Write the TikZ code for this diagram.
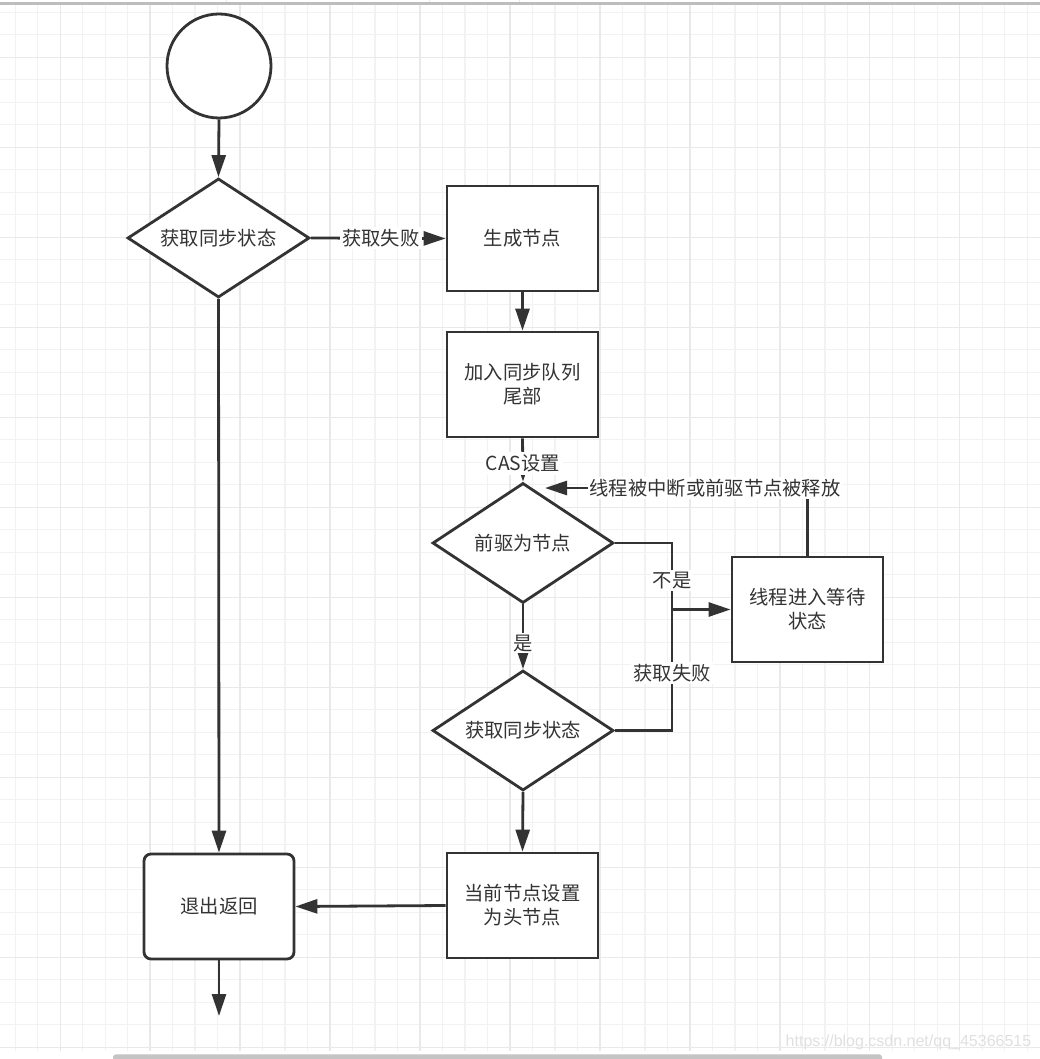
\documentclass[tikz,border=0pt]{standalone}
\usepackage{fontspec}
\setmainfont{Noto Sans CJK SC}
\newfontfamily\wmfont{Liberation Sans}
\usetikzlibrary{arrows.meta,shapes.geometric}
\definecolor{ink}{HTML}{333333}
\definecolor{gridminor}{HTML}{F2F2F2}
\definecolor{gridmajor}{HTML}{E9E9E9}
\definecolor{barcol}{HTML}{BDBDBD}
\definecolor{wmcol}{HTML}{E0E0E0}
\begin{document}
\begin{tikzpicture}[x=1pt,y=-1pt,
  cjk/.style={text=ink,font=\fontsize{19.3}{24}\selectfont},
  box/.style={cjk,draw=ink,line width=2.8pt,fill=white,minimum width=151pt,minimum height=105pt,inner sep=0pt,align=center},
  rbox/.style={box,rounded corners=7pt,minimum width=150pt},
  dec/.style={cjk,diamond,draw=ink,line width=2.8pt,fill=white,minimum width=182pt,minimum height=119pt,aspect=1.5,inner sep=0pt},
  startc/.style={circle,draw=ink,line width=2.8pt,fill=white,minimum size=104pt,inner sep=0pt},
  conn/.style={draw=ink,line width=2.8pt},
  arr/.style={conn,-{Triangle[length=22pt,width=14pt]}},
  lbl/.style={cjk,fill=white,inner sep=2pt}
]
\useasboundingbox (0,0) rectangle (1040,1059);
\fill[white] (0,0) rectangle (1040,1059);
% grid
\foreach \k in {0,...,45} {\draw[gridminor,line width=1.3pt] ({15.2+22.49*\k},5) -- ({15.2+22.49*\k},1051);}
\foreach \k in {0,...,46} {\draw[gridminor,line width=1.3pt] (0,{12.3+22.5*\k}) -- (1040,{12.3+22.5*\k});}
\foreach \k in {2,6,...,42} {\draw[gridmajor,line width=1.3pt] ({15.2+22.49*\k},5) -- ({15.2+22.49*\k},1051);}
\foreach \k in {2,6,...,46} {\draw[gridmajor,line width=1.3pt] (0,{12.3+22.5*\k}) -- (1040,{12.3+22.5*\k});}
% top bar and scrollbar
\fill[barcol] (0,2.5) rectangle (1040,4.8);
\foreach \x in {226.7,429.3,519.3} {\draw[gridmajor,line width=1pt] (\x,0) -- (\x,2.5);}
\fill[barcol!90,rounded corners=3pt] (113,1054.3) rectangle (882,1064);
% watermark
\node[anchor=base,text=wmcol,font=\wmfont\fontsize{16}{16}\selectfont,inner sep=0pt] (wm) at (908.5,1046.5) {https://blog.csdn.net/qq\_45366515};

% nodes
\node[startc] (start) at (219,66) {};
\node[dec] (d1) at (218.5,238) {获取同步状态};
\node[box] (b1) at (522.5,238.5) {生成节点};
\node[box] (b2) at (522.5,384.5) {加入同步队列\\尾部};
\node[dec,minimum width=181pt,minimum height=120pt] (d2) at (523,543) {前驱为节点};
\node[dec,minimum width=181pt,minimum height=120pt] (d3) at (523,730.5) {获取同步状态};
\node[box] (b3) at (807.5,609.5) {线程进入等待\\状态};
\node[rbox] (b4) at (219,906.5) {退出返回};
\node[box] (b5) at (522.5,905.5) {当前节点设置\\为头节点};
\coordinate (j) at (672,609.5);
\coordinate (fbE) at (545,488);
\coordinate (endpt) at (219,1016);

% connectors
\draw[arr] (start.south) -- (d1.north);
\draw[arr] (d1.east) -- node[lbl,pos=0.52] (l1) {获取失败} (b1.west);
\draw[arr] (b1.south) -- (b2.north);
\draw[arr] (b2.south) -- node[lbl,pos=0.58,inner sep=3pt] (l2) {CAS设置} (d2.north);
\draw[arr] (d2.south) -- node[lbl,pos=0.6,inner sep=1.5pt] (l3) {是} (d3.north);
\draw[conn] (d2.east) -| node[lbl,pos=0.78] (l4) {不是} (j);
\draw[conn] (d3.east) -| node[lbl,pos=0.738] (l5) {获取失败} (j);
\draw[arr] (j) -- (b3.west);
\draw[arr] (b3.north) |- node[lbl,pos=0.676] (l6) {线程被中断或前驱节点被释放} (fbE);
\draw[arr] (d1.south) -- (b4.north);
\draw[arr] (d3.south) -- (b5.north);
\draw[arr] (b5.west) -- (b4.east);
\draw[arr] (b4.south) -- (endpt);
\end{tikzpicture}
\end{document}
